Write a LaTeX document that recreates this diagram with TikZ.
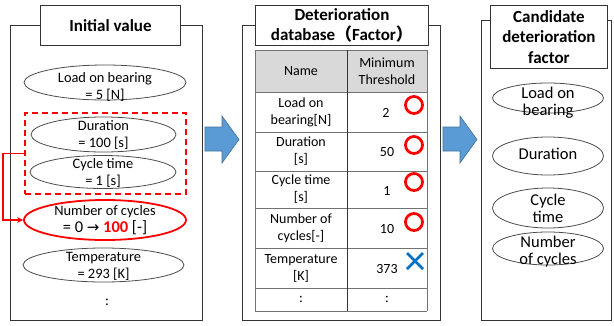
\documentclass[tikz,border=0pt]{standalone}
\usepackage{fontspec}
\setmainfont{Carlito}
\newfontfamily\symfont{DejaVu Sans}
\newfontfamily\cjkfont{Noto Sans CJK JP}
\usetikzlibrary{shapes.geometric,arrows.meta}

\definecolor{alertred}{HTML}{FF0000}
\definecolor{markblue}{HTML}{0070C0}
\definecolor{arrowfill}{HTML}{5B9BD5}
\definecolor{arrowedge}{HTML}{41719C}
\definecolor{headgray}{HTML}{D9D9D9}

\begin{document}
\begin{tikzpicture}[x=1pt,y=-1pt,
  panel/.style={draw=black!80, line width=0.9pt},
  titlebox/.style={draw=black!80, fill=white, line width=0.9pt, inner sep=0pt,
    anchor=north west, align=center, font=\fontsize{17}{20.5}\selectfont\bfseries},
  ellip/.style={ellipse, draw=black!70, line width=0.8pt, inner sep=0pt},
  ltext/.style={align=center, inner sep=0pt, font=\fontsize{14.4}{17}\selectfont},
  rtext/.style={align=center, inner sep=0pt, font=\fontsize{16.5}{17}\selectfont},
  ttext/.style={align=center, inner sep=0pt, font=\fontsize{14}{17}\selectfont},
  bigarrow/.style={fill=arrowfill, draw=arrowedge, line width=0.6pt},
  okmark/.style={draw=alertred, line width=2.8pt},
  ngmark/.style={draw=markblue, line width=2.6pt},
  grid/.style={draw=black!55, line width=0.9pt}
]
\useasboundingbox (0,0) rectangle (614,325);

% ---------- left panel: initial values ----------
\draw[panel] (10,25) rectangle (202,320);
\node[titlebox, minimum width=140pt, minimum height=40pt] (ttlA) at (40,5) {Initial value};

\node[ellip, minimum width=162pt, minimum height=35pt] (eLoad) at (105,82.5) {};
\node[ltext] (tLoad) at (105,87) {Load on bearing\\= 5 [N]};

\node[ellip, minimum width=145pt, minimum height=35pt] (eDur) at (103.5,134.5) {};
\node[ltext] (tDur) at (103.5,134.5) {Duration\\= 100 [s]};

\node[ellip, minimum width=146pt, minimum height=33pt] (eCyc) at (103,172) {};
\node[ltext] (tCyc) at (103,172.5) {Cycle time\\= 1 [s]};

\node[draw=alertred, dashed, dash pattern=on 6pt off 4pt, line width=1.6pt,
      minimum width=161pt, minimum height=81pt, inner sep=0pt, anchor=north west] (grp) at (24,112) {};

\node[ellip, draw=alertred, line width=1.8pt, minimum width=162pt, minimum height=40pt] (eNum) at (105,220) {};
\node[ltext] (tNum) at (105,220) {Number of cycles\\
  {\fontsize{16.5}{19}\selectfont = 0 {\symfont\fontsize{15}{19}\selectfont →} \textcolor{alertred}{\bfseries 100} [-]}};

\node[ellip, minimum width=161pt, minimum height=34pt] (eTmp) at (103.5,265) {};
\node[ltext] (tTmp) at (103.5,266.5) {Temperature\\= 293 [K]};

\node[ltext] (tMore) at (107,302) {:};

\draw[alertred, line width=1.3pt, -{Stealth[length=6pt,width=6pt]}]
  (grp.west) -- ++(-21,0) |- (eNum.west);

% ---------- arrow to the database ----------
\draw[bigarrow] (205,127) -- (222,127) -- (222,116) -- (239,139.5)
  -- (222,163) -- (222,151) -- (205,151) -- cycle;

% ---------- middle panel: deterioration database ----------
\draw[panel] (242,25) rectangle (440,320);
\node[titlebox, minimum width=173pt, minimum height=40pt] (ttlB) at (255,5)
  {Deterioration\\database{\cjkfont （}Factor{\cjkfont ）}};

\fill[headgray] (255,50) rectangle (427,92);
\foreach \yy in {50,92,132,171,208,248,288,311}
  \draw[grid] (255,\yy) -- (427,\yy);
\draw[grid] (255,50) -- (255,311);
\draw[grid] (427,50) -- (427,311);
\draw[draw=black!80, line width=0.9pt] (347,50) -- (347,311);

\node[ttext] (hName) at (301,71) {Name};
\node[ttext] (hMin) at (387,71) {Minimum\\Threshold};

\node[ttext] (rLoad) at (301,112) {Load on\\bearing[N]};
\node[ttext] (vLoad) at (386,113) {2};
\node[ttext] (rDur) at (301,151.5) {Duration\\{[s]}};
\node[ttext] (vDur) at (387,152) {50};
\node[ttext] (rCyc) at (301,189.5) {Cycle time\\{[s]}};
\node[ttext] (vCyc) at (387,191) {1};
\node[ttext] (rNum) at (301,228) {Number of\\cycles[-]};
\node[ttext] (vNum) at (387,229) {10};
\node[ttext] (rTmp) at (301,268) {Temperature\\{[K]}};
\node[ttext] (vTmp) at (387,269) {373};
\node[ttext] (rMore) at (301,299.5) {:};
\node[ttext] (vMore) at (387,299.5) {:};

\foreach \yy in {105,145,182,222}
  \draw[okmark] (414,\yy) circle[radius=8.5pt];
\draw[ngmark] (407,253) -- (423,269) (423,253) -- (407,269);

% ---------- arrow to the candidates ----------
\draw[bigarrow] (443,127) -- (460,127) -- (460,116) -- (477,139.5)
  -- (460,163) -- (460,151) -- (443,151) -- cycle;

% ---------- right panel: candidate factors ----------
\draw[panel] (481,20) rectangle (611,320);
\node[titlebox, minimum width=117pt, minimum height=63pt] (ttlC) at (490,5)
  {Candidate\\deterioration\\factor};

\node[ellip, minimum width=111pt, minimum height=30pt] (cLoad) at (548,98) {};
\node[rtext] (kLoad) at (548,103) {Load on\\bearing};
\node[ellip, minimum width=111pt, minimum height=38pt] (cDur) at (548,156) {};
\node[rtext] (kDur) at (548,154) {Duration};
\node[ellip, minimum width=111pt, minimum height=40pt] (cCyc) at (548,208) {};
\node[rtext] (kCyc) at (548,208) {Cycle\\time};
\node[ellip, minimum width=111pt, minimum height=33pt] (cNum) at (548,248.5) {};
\node[rtext] (kNum) at (548,252) {Number\\of cycles};
\end{tikzpicture}
\end{document}
